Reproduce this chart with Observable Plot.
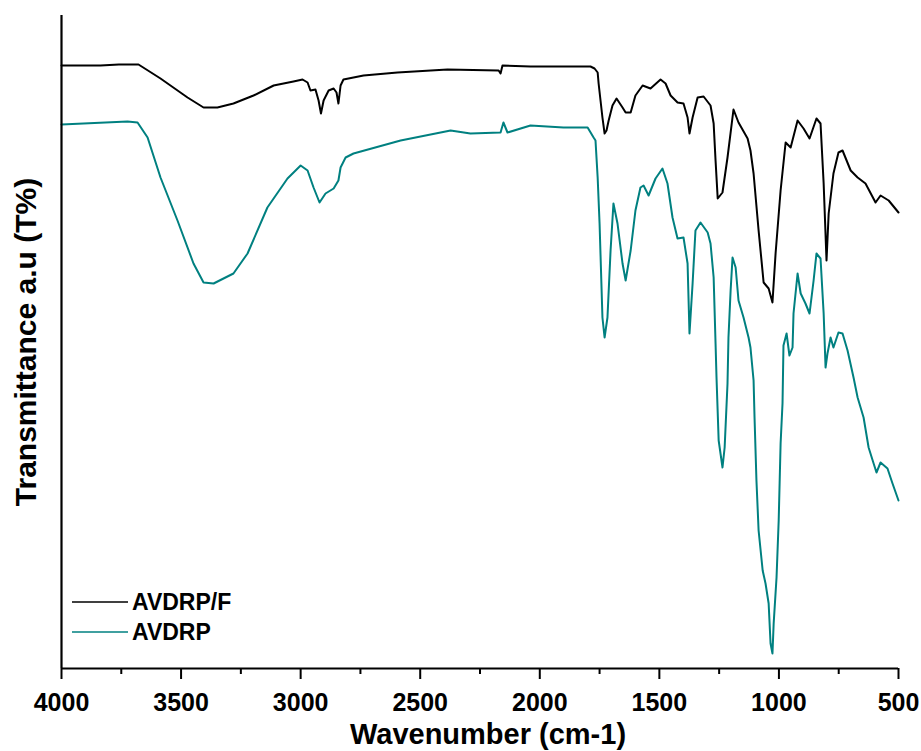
<!DOCTYPE html>
<html>
<head>
<meta charset="utf-8">
<script src="https://cdn.jsdelivr.net/npm/d3@7"></script>
<script src="https://cdn.jsdelivr.net/npm/@observablehq/plot@0.6"></script>
<style>
  html, body { margin: 0; padding: 0; background: #fff; }
  #chart { width: 921px; height: 751px; }
  svg { font-family: "Liberation Sans", Arial, sans-serif; }
</style>
</head>
<body>
<div id="chart"></div>
<script>
// ---- Data (transmittance in arbitrary units) ----
const seriesNames = ["AVDRP/F", "AVDRP"];
const seriesColors = ["#000000", "#008080"];

// AVDRP/F (black)
const wavenumberF = [4000,3837,3760,3678,3586,3473,3406,3348,3281,3197,3113,3030,2992,2971,2959,2938,2925,2915,2904,2883,2862,2850,2842,2833,2821,2737,2595,2386,2172,2164,2156,2039,1913,1788,1771,1758,1754,1746,1738,1729,1721,1712,1696,1679,1654,1641,1620,1600,1570,1537,1495,1474,1453,1424,1399,1382,1374,1361,1340,1315,1286,1273,1265,1256,1236,1215,1190,1169,1131,1119,1106,1085,1064,1043,1027,1014,993,972,951,922,897,872,843,826,813,801,792,772,751,734,700,671,638,596,575,541,500];
const transF = [603,603,604,604,590,571,561,561,565,573,583,587,589,586,578,579,568,555,568,578,580,576,565,583,589,593,596,599,598,595,603,602,602,602,600,596,585,568,551,535,538,548,563,570,561,556,556,573,583,580,589,585,573,566,565,551,535,551,571,572,563,545,508,470,476,511,559,546,530,518,495,438,386,380,366,415,478,526,521,548,540,530,550,545,485,408,455,495,516,518,498,491,485,466,473,468,456];

// AVDRP (teal)
const wavenumberP = [4000,3724,3682,3640,3586,3515,3448,3406,3364,3281,3222,3139,3055,3000,2971,2946,2921,2896,2862,2842,2833,2812,2779,2582,2373,2290,2164,2152,2135,2039,1901,1800,1775,1767,1758,1750,1738,1729,1717,1704,1692,1675,1654,1641,1620,1600,1579,1566,1545,1516,1487,1466,1445,1424,1399,1382,1374,1361,1349,1328,1298,1286,1273,1265,1261,1252,1236,1227,1215,1211,1202,1194,1181,1169,1148,1127,1119,1106,1102,1094,1085,1068,1056,1043,1035,1027,1022,1010,1001,993,985,981,968,956,943,939,922,909,889,872,855,843,826,813,805,797,784,772,751,734,713,688,671,646,625,604,592,575,546,525,500];
const transP = [544,547,546,531,491,448,405,386,385,395,415,461,490,503,498,481,466,475,480,488,501,511,515,528,538,535,536,546,536,543,541,541,531,528,491,445,351,331,351,418,465,445,405,388,418,458,481,483,473,490,500,485,451,430,431,405,335,385,438,446,436,425,391,325,291,228,201,221,285,331,378,411,401,368,351,331,321,288,251,188,138,98,85,65,25,15,45,91,148,225,265,323,335,313,321,355,395,375,365,355,388,415,410,355,301,315,331,321,336,335,318,291,271,251,221,205,196,206,200,185,168];

const xMajorTicks = [4000,3500,3000,2500,2000,1500,1000,500];
const xMinorTicks = [3750,3250,2750,2250,1750,1250,750];

const xLabel = "Wavenumber (cm-1)";
const yLabel = "Transmittance a.u (T%)";

// ---- Build tidy table ----
const rows = [];
wavenumberF.forEach((w, i) => rows.push({series: seriesNames[0], wn: w, t: transF[i]}));
wavenumberP.forEach((w, i) => rows.push({series: seriesNames[1], wn: w, t: transP[i]}));

const legendMark = (index, scales, values, dims) => {
  const g = d3.create("svg:g");
  const x0 = dims.marginLeft + 11;
  const yBase = dims.height - dims.marginBottom;
  const offs = [-66, -36];
  seriesNames.forEach((name, i) => {
    const y = yBase + offs[i];
    g.append("line")
      .attr("x1", x0).attr("x2", x0 + 56)
      .attr("y1", y).attr("y2", y)
      .attr("stroke", seriesColors[i]).attr("stroke-width", 1.6);
    g.append("text")
      .attr("x", x0 + 60).attr("y", y)
      .attr("dy", "0.36em")
      .attr("text-anchor", "start")
      .attr("font-size", 23).attr("font-weight", "bold")
      .attr("font-family", "Liberation Sans, Arial, sans-serif")
      .attr("fill", "#000")
      .text(name);
  });
  return g.node();
};

const chart = Plot.plot({
  width: 921,
  height: 751,
  marginLeft: 61,
  marginRight: 23,
  marginTop: 15,
  marginBottom: 83,
  style: {fontFamily: "Liberation Sans, Arial, sans-serif", background: "#fff", color: "#000"},
  x: {domain: [4000, 500], axis: null},
  y: {domain: [0, 653], axis: null},
  color: {domain: seriesNames, range: seriesColors},
  marks: [
    Plot.line(rows, {x: "wn", y: "t", z: "series", stroke: "series", strokeWidth: 2, strokeLinejoin: "round"}),
    Plot.axisX({ticks: xMinorTicks, tickSize: 6, text: null, strokeWidth: 2, label: null}),
    Plot.axisX({ticks: xMajorTicks, tickSize: 11, tickPadding: 14, strokeWidth: 2,
      tickFormat: d => String(d), fontSize: 25, fontWeight: "bold", label: null}),
    Plot.ruleY([0], {strokeWidth: 2.2, stroke: "#000"}),
    Plot.ruleX([4000], {y1: 0, y2: 653, strokeWidth: 2.2, stroke: "#000"}),
    Plot.text([xLabel], {frameAnchor: "bottom", lineAnchor: "middle", textAnchor: "middle", dx: 8, dy: 66, fontSize: 29, fontWeight: "bold", fill: "#000"}),
    Plot.text([yLabel], {frameAnchor: "left", lineAnchor: "middle", textAnchor: "middle", dx: -35, rotate: -90, fontSize: 30, fontWeight: "bold", fill: "#000"}),
    legendMark
  ]
});

document.getElementById("chart").appendChild(chart);
</script>
</body>
</html>
